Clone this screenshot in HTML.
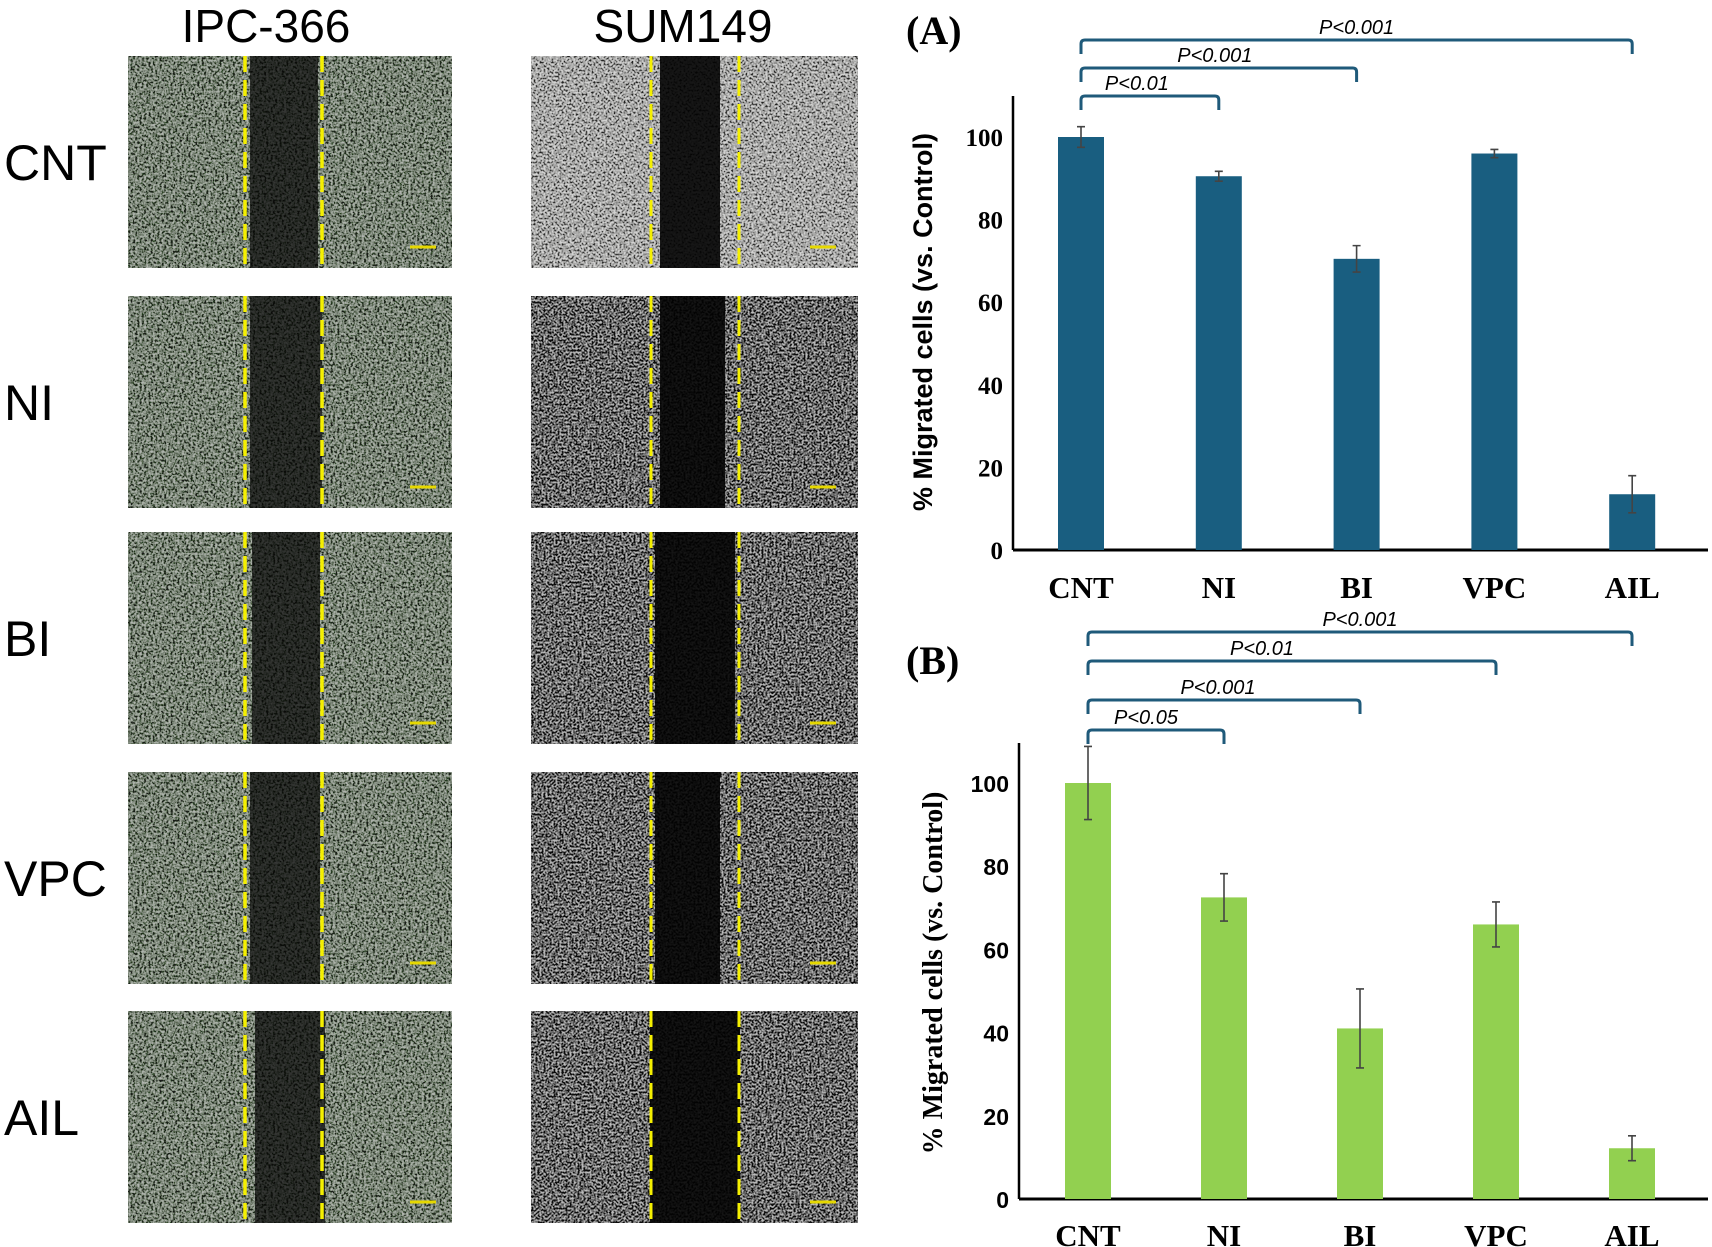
<!DOCTYPE html>
<html><head><meta charset="utf-8"><style>
body{margin:0;background:#fff}
svg{display:block}
</style></head><body>
<svg id="fig" width="1712" height="1247" viewBox="0 0 1712 1247" xmlns="http://www.w3.org/2000/svg">
<defs>
<filter id="texG" x="0" y="0" width="100%" height="100%">
<feTurbulence type="fractalNoise" baseFrequency="0.45" numOctaves="2" seed="3"/>
<feColorMatrix type="matrix" values="2.6 0 0 0 -0.92  2.7 0 0 0 -0.9  2.55 0 0 0 -0.92  0 0 0 0 1"/>
</filter>
<filter id="texW" x="0" y="0" width="100%" height="100%">
<feTurbulence type="fractalNoise" baseFrequency="0.5" numOctaves="2" seed="7"/>
<feColorMatrix type="matrix" values="3 0 0 0 -0.95  3 0 0 0 -0.95  3 0 0 0 -0.95  0 0 0 0 1"/>
</filter>
<filter id="texD" x="0" y="0" width="100%" height="100%">
<feTurbulence type="fractalNoise" baseFrequency="0.5" numOctaves="2" seed="11"/>
<feColorMatrix type="matrix" values="3.4 0 0 0 -1.4  3.4 0 0 0 -1.4  3.4 0 0 0 -1.4  0 0 0 0 1"/>
</filter>
</defs>
<g id="left"></g>
<g id="chartA"></g>
<g id="chartB"></g>
</svg>
<script>
const categories = ["CNT","NI","BI","VPC","AIL"];
const valuesA = [100, 90.5, 70.5, 96, 13.5];
const errorsA = [2.5, 1.2, 3.2, 1.0, 4.5];
const valuesB = [100, 72.5, 41, 66, 12.2];
const errorsB = [8.8, 5.7, 9.5, 5.4, 3.0];
const yTicks = [0, 20, 40, 60, 80, 100];
const sigA = [{from:0,to:1,label:"P<0.01"},{from:0,to:2,label:"P<0.001"},{from:0,to:4,label:"P<0.001"}];
const sigB = [{from:0,to:1,label:"P<0.05"},{from:0,to:2,label:"P<0.001"},{from:0,to:3,label:"P<0.01"},{from:0,to:4,label:"P<0.001"}];

const NS="http://www.w3.org/2000/svg";
function mk(parent, tag, attrs, text){
  const e=document.createElementNS(NS,tag);
  for(const k in attrs) e.setAttribute(k,attrs[k]);
  if(text!==undefined) e.textContent=text;
  parent.appendChild(e); return e;
}

const L=document.getElementById('left');
let t=mk(L,'text',{x:266,y:42,'text-anchor':'middle','font-family':'Liberation Sans, sans-serif','font-size':46},'IPC-366');


t=mk(L,'text',{x:683,y:42,'text-anchor':'middle','font-family':'Liberation Sans, sans-serif','font-size':46},'SUM149');


const rowsY=[56,296,532,772,1011];
const rowH=212;
const gapsIPC=[[250,318],[250,322],[252,320],[250,320],[255,325]];
const gapsSUM=[[660,720],[660,725],[655,735],[655,720],[650,740]];
rowsY.forEach((y,i)=>{
  const lab=mk(L,'text',{x:4,y:y+rowH/2+18,'font-family':'Liberation Sans, sans-serif','font-size':50},categories[i]);
  
  
  const g1=mk(L,'g',{});
  
  
  mk(g1,'rect',{x:128,y:y,width:324,height:rowH,fill:'#3f443e'});
  mk(g1,'rect',{x:128,y:y,width:324,height:rowH,filter:'url(#texG)',opacity:0.6});
  const gp=gapsIPC[i];
  mk(g1,'rect',{x:gp[0],y:y,width:gp[1]-gp[0],height:rowH,fill:'#050605',opacity:0.72});
  mk(g1,'line',{x1:245,y1:y,x2:245,y2:y+rowH,stroke:'#f5f000','stroke-width':3.5,'stroke-dasharray':'16,8'});
  mk(g1,'line',{x1:322,y1:y,x2:322,y2:y+rowH,stroke:'#f5f000','stroke-width':3.5,'stroke-dasharray':'16,8'});
  mk(g1,'line',{x1:410,y1:y+191,x2:436,y2:y+191,stroke:'#e6d800','stroke-width':3});
  const g2=mk(L,'g',{});
  
  
  const dark=i>0;
  mk(g2,'rect',{x:531,y:y,width:327,height:rowH,fill:dark?'#262626':'#6e6e6a'});
  mk(g2,'rect',{x:531,y:y,width:327,height:rowH,filter:dark?'url(#texD)':'url(#texW)',opacity:0.7});
  const gs=gapsSUM[i];
  mk(g2,'rect',{x:gs[0],y:y,width:gs[1]-gs[0],height:rowH,fill:'#020202',opacity:0.9});
  mk(g2,'line',{x1:651,y1:y,x2:651,y2:y+rowH,stroke:'#f5f000','stroke-width':3,'stroke-dasharray':'16,8'});
  mk(g2,'line',{x1:739,y1:y,x2:739,y2:y+rowH,stroke:'#f5f000','stroke-width':3,'stroke-dasharray':'16,8'});
  mk(g2,'line',{x1:810,y1:y+191,x2:836,y2:y+191,stroke:'#e6d800','stroke-width':3});
});

function drawChart(gid, cfg, values, errors, sig){
  const G=document.getElementById(gid);
  const yScale=v=>cfg.base-(cfg.base-cfg.top100)*v/100;
  const xScale=i=>cfg.x0+i*cfg.step;
  let a=mk(G,'line',{x1:cfg.axisX,y1:cfg.axisTop,x2:cfg.axisX,y2:cfg.base,stroke:'#000','stroke-width':2.5});
   
  a=mk(G,'line',{x1:cfg.axisX,y1:cfg.base,x2:1708,y2:cfg.base,stroke:'#000','stroke-width':3});
   
  yTicks.forEach(v=>{
    const tk=mk(G,'text',{x:cfg.axisX-10,y:yScale(v)+9,'text-anchor':'end','font-family':cfg.tickFamily,'font-weight':'bold','font-size':cfg.tickFont},String(v));
    
    
  });
  values.forEach((v,i)=>{
    const cx=xScale(i);
    const b=mk(G,'rect',{x:cx-cfg.bw/2,y:yScale(v),width:cfg.bw,height:cfg.base-yScale(v),fill:cfg.color});
    
    
    const e=mk(G,'path',{d:`M${cx},${yScale(v+errors[i])}V${yScale(v-errors[i])}M${cx-4},${yScale(v+errors[i])}H${cx+4}M${cx-4},${yScale(v-errors[i])}H${cx+4}`,stroke:'#444','stroke-width':1.6,fill:'none'});
    
    
    const l=mk(G,'text',{x:cx,y:cfg.labelY,'text-anchor':'middle','font-family':'Liberation Serif, serif','font-weight':'bold','font-size':31},categories[i]);
    
    
  });
  const ttl=mk(G,'text',{x:0,y:0,'text-anchor':'middle','font-family':cfg.titleFont,'font-weight':'bold','font-size':cfg.titleSize,transform:`translate(${cfg.titleX},${cfg.titleY}) rotate(-90)`},'% Migrated cells (vs. Control)');
  
  
  const pl=mk(G,'text',{x:cfg.panelX,y:cfg.panelY,'font-family':'Liberation Serif, serif','font-weight':'bold','font-size':40},cfg.panel);
  
  
  sig.forEach((s,k)=>{
    const yb=cfg.brY[k];
    const x1=xScale(s.from), x2=xScale(s.to)+cfg.brOff;
    const p=mk(G,'path',{d:`M${x1},${yb+14}V${yb+4}Q${x1},${yb} ${x1+4},${yb}H${x2-4}Q${x2},${yb} ${x2},${yb+4}V${yb+14}`,stroke:'#1f5a7a','stroke-width':3,fill:'none'});
    
    
    const tx=mk(G,'text',{x:(x1+x2)/2+cfg.lblOff[k],y:yb-6,'text-anchor':'middle','font-family':'Liberation Sans, sans-serif','font-style':'italic','font-size':20},s.label);
    
    
  });
}
drawChart('chartA',{axisX:1013,axisTop:96,base:550,top100:137,x0:1081,step:137.8,bw:46,color:'#195e80',labelY:598,tickFont:25,tickFamily:'Liberation Serif, serif',
  titleFont:'Liberation Sans, sans-serif',titleSize:27,titleX:932,titleY:322,panel:'(A)',panelX:906,panelY:44,
  brY:[96,68,40],brOff:0,lblOff:[-13,-4,0]},valuesA,errorsA,sigA);
drawChart('chartB',{axisX:1019,axisTop:743,base:1199,top100:783,x0:1088,step:136,bw:46,color:'#92d050',labelY:1246,tickFont:23,tickFamily:'Liberation Sans, sans-serif',
  titleFont:'Liberation Serif, serif',titleSize:28,titleX:942,titleY:973,panel:'(B)',panelX:906,panelY:674,
  brY:[730,700,661,632],brOff:0,lblOff:[-10,-6,-30,0]},valuesB,errorsB,sigB);
</script>
</body></html>
